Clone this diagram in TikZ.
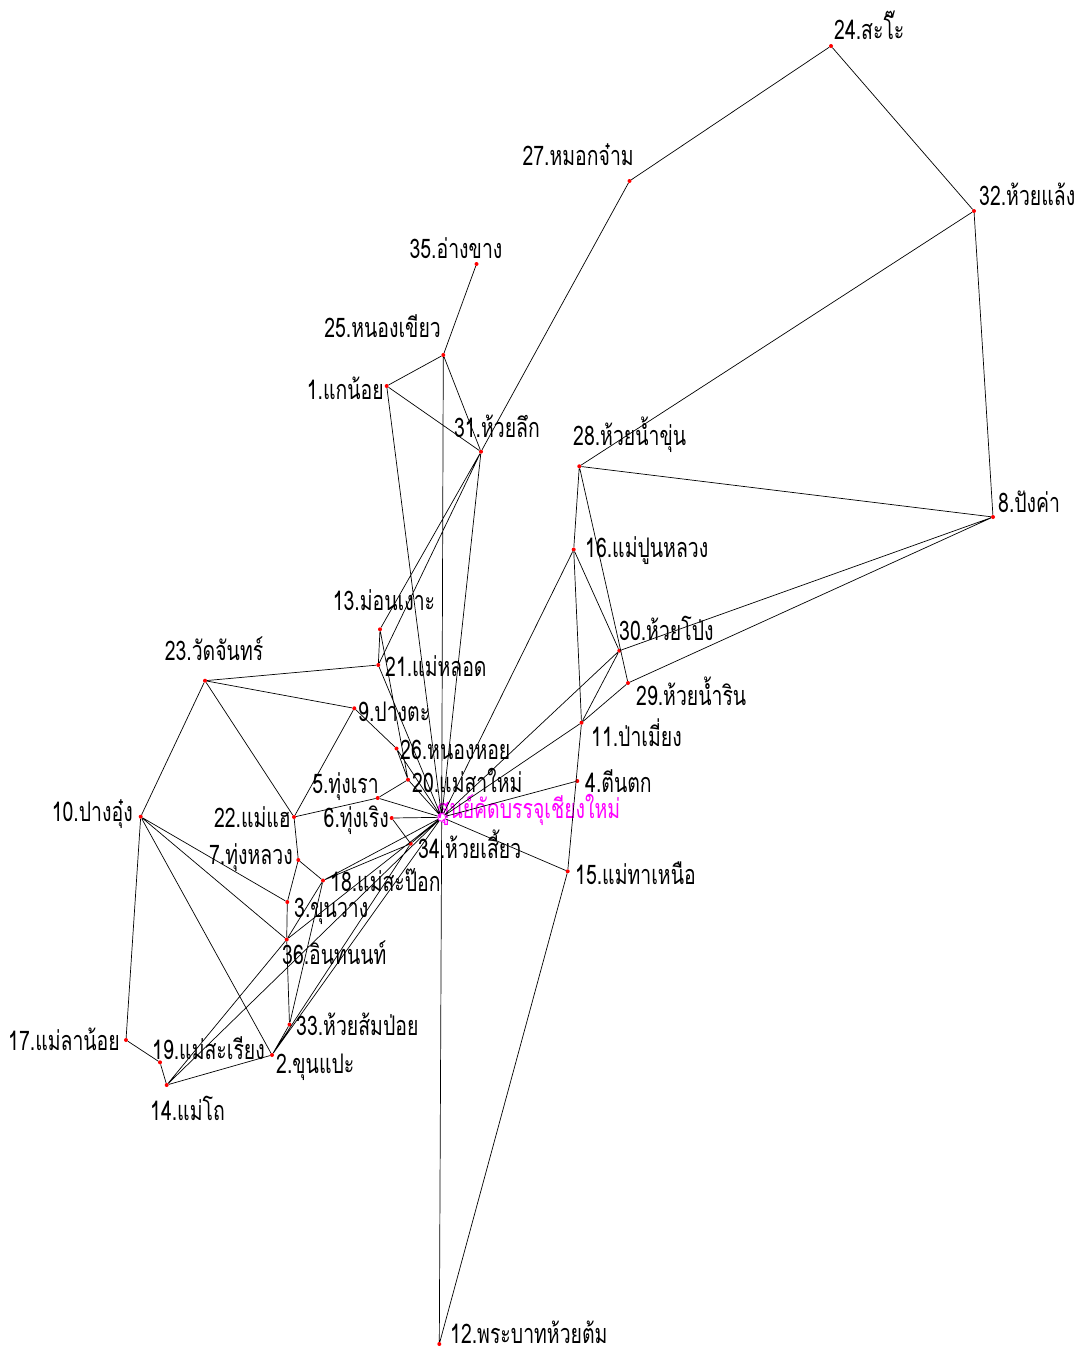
\documentclass[tikz,border=0pt]{standalone}
\usepackage{fontspec}
\newfontfamily\thai[Script=Thai,FakeStretch=0.72]{Loma}
\usetikzlibrary{positioning}
\definecolor{stopred}{RGB}{255,0,0}
\definecolor{depotpink}{RGB}{255,0,255}

\begin{document}
\begin{tikzpicture}[x=1pt,y=-1pt,
  stop/.style={circle,fill=stopred,inner sep=0pt,minimum size=4pt},
  depot/.style={circle,draw=depotpink,line width=0.9pt,inner sep=0pt,minimum size=8pt},
  lbl/.style={font=\thai\fontsize{27}{27}\selectfont,inner sep=0pt},
  road/.style={draw,line width=0.7pt}]
\useasboundingbox (0,0) rectangle (1082,1355);
% stops
\node[depot] (c) at (441.7,817.3) {};
\node[stop] (n1) at (386.7,386) {};
\node[stop] (n2) at (272,1055) {};
\node[stop] (n3) at (287.3,902) {};
\node[stop] (n4) at (577.3,781) {};
\node[stop] (n5) at (377.7,798) {};
\node[stop] (n6) at (391.7,818) {};
\node[stop] (n7) at (298.3,860) {};
\node[stop] (n8) at (993,517) {};
\node[stop] (n9) at (354.3,708.3) {};
\node[stop] (n10) at (140.7,816.7) {};
\node[stop] (n11) at (581.5,722.7) {};
\node[stop] (n12) at (439.3,1344) {};
\node[stop] (n13) at (380,629.3) {};
\node[stop] (n14) at (166.7,1085) {};
\node[stop] (n15) at (567.7,871.3) {};
\node[stop] (n16) at (573.7,549.5) {};
\node[stop] (n17) at (126,1040) {};
\node[stop] (n18) at (323,880.5) {};
\node[stop] (n19) at (160,1062.3) {};
\node[stop] (n20) at (408,779.7) {};
\node[stop] (n21) at (378.3,665) {};
\node[stop] (n22) at (294,817) {};
\node[stop] (n23) at (205,680.7) {};
\node[stop] (n24) at (831,46) {};
\node[stop] (n25) at (443.3,355) {};
\node[stop] (n26) at (396.5,748.5) {};
\node[stop] (n27) at (629.5,181) {};
\node[stop] (n28) at (579.3,466.3) {};
\node[stop] (n29) at (628,683) {};
\node[stop] (n30) at (619.3,650.7) {};
\node[stop] (n31) at (481,451.7) {};
\node[stop] (n32) at (974,211) {};
\node[stop] (n33) at (289.5,1024.5) {};
\node[stop] (n34) at (410.7,843.7) {};
\node[stop] (n35) at (476.5,264) {};
\node[stop] (n36) at (286.7,939.5) {};
% names
\node[lbl,anchor=south west] (t24) at (834,40) {24.สะโ๊ะ};
\node[lbl,anchor=south east] (t27) at (634,166) {27.หมอกจ๋าม};
\node[lbl,anchor=south west] (t32) at (979,206) {32.ห้วยแล้ง};
\node[lbl,anchor=south] (t35) at (456,259) {35.อ่างขาง};
\node[lbl,anchor=south east] (t25) at (441,338) {25.หนองเขียว};
\node[lbl,anchor=east] (t1) at (384,388) {1.แกน้อย};
\node[lbl,anchor=south] (t31) at (497,438) {31.ห้วยลึก};
\node[lbl,anchor=south west] (t28) at (573,453) {28.ห้วยน้ำขุ่น};
\node[lbl,anchor=south west] (t8) at (998,513) {8.ปังค่า};
\node[lbl,anchor=west] (t16) at (585,551) {16.แม่ปูนหลวง};
\node[lbl,anchor=south west] (t30) at (619,641) {30.ห้วยโป่ง};
\node[lbl,anchor=west] (t29) at (636,691) {29.ห้วยน้ำริน};
\node[lbl,anchor=west] (t11) at (591,733) {11.ป่าเมี่ยง};
\node[lbl,anchor=west] (t4) at (585,781) {4.ตีนตก};
\node[lbl,anchor=west] (t15) at (575,873) {15.แม่ทาเหนือ};
\node[lbl,anchor=west] (t12) at (450,1332) {12.พระบาทห้วยต้ม};
\node[lbl,anchor=south] (t13) at (384,611) {13.ม่อนเงาะ};
\node[lbl,anchor=west] (t21) at (385,666) {21.แม่หลอด};
\node[lbl,anchor=south] (t23) at (214,661) {23.วัดจันทร์};
\node[lbl,anchor=west] (t9) at (358,712) {9.ปางตะ};
\node[lbl,anchor=west] (t26) at (400,750) {26.หนองหอย};
\node[lbl,anchor=west] (t20) at (412,780) {20.แม่สาใหม่};
\node[lbl,anchor=south east] (t5) at (379,801) {5.ทุ่งเรา};
\node[lbl,anchor=east] (t22) at (291,817) {22.แม่แฮ};
\node[lbl,anchor=east] (t10) at (133,814) {10.ปางอุ๋ง};
\node[lbl,anchor=east] (t6) at (389,820) {6.ทุ่งเริง};
\node[lbl,anchor=west] (t34) at (418,844) {34.ห้วยเสี้ยว};
\node[lbl,anchor=east] (t7) at (293,858) {7.ทุ่งหลวง};
\node[lbl,anchor=west] (t18) at (330,880) {18.แม่สะป๊อก};
\node[lbl,anchor=west] (t3) at (294,911) {3.ขุนวาง};
\node[lbl,anchor=west] (t36) at (282,953) {36.อินทนนท์};
\node[lbl,anchor=west] (t33) at (296,1024) {33.ห้วยส้มป่อย};
\node[lbl,anchor=east] (t17) at (120,1039) {17.แม่ลาน้อย};
\node[lbl,anchor=west] (t19) at (152,1048) {19.แม่สะเรียง};
\node[lbl,anchor=west] (t2) at (276,1067) {2.ขุนแปะ};
\node[lbl,anchor=west] (t14) at (150,1108) {14.แม่โถ};
\node[lbl,anchor=west,text=depotpink] (tc) at (437,810) {ศูนย์คัดบรรจุเชียงใหม่};
% roads, north and east
\path[road] (n24) -- (n27) (n24) -- (n32) (n27) -- (n31) (n32) -- (n28)
  (n32) -- (n8) (n35) -- (n25) (n25) -- (n1) (n25) -- (n31) (n25) -- (c)
  (n1) -- (n31) (n1) -- (c) (n31) -- (n13) (n31) -- (n21) (n31) -- (c)
  (n28) -- (n8) (n28) -- (n16) (n28) -- (n29) (n8) -- (n30) (n8) -- (n29)
  (n16) -- (c) (n16) -- (n30) (n16) -- (n11) (n30) -- (c) (n30) -- (n11)
  (n29) -- (n11) (n11) -- (c) (n11) -- (n15) (n4) -- (c) (n15) -- (c)
  (n15) -- (n12) (c) -- (n12);
% roads, west and south
\path[road] (n13) -- (n21) (n13) -- (n20) (n21) -- (n23) (n21) -- (c)
  (n23) -- (n9) (n23) -- (n10) (n23) -- (n22) (n9) -- (n22) (n9) -- (n26)
  (n26) -- (n20) (n26) -- (c) (n20) -- (n5) (n20) -- (c) (n5) -- (n22)
  (n5) -- (c) (n6) -- (c) (n6) -- (n34) (n34) -- (c) (n22) -- (n7)
  (n7) -- (n18) (n7) -- (n3) (n3) -- (n10) (n3) -- (n36) (n10) -- (n36)
  (n10) -- (n2) (n10) -- (n17) (n17) -- (n19) (n19) -- (n14) (n14) -- (n2)
  (n36) -- (n33) (n33) -- (n2) (n18) -- (n34) (n18) -- (c) (n18) -- (n36)
  (n18) -- (n33) (n36) -- (c) (n14) -- (n36) (n14) -- (c) (n2) -- (c)
  (n2) -- (n34);
\end{tikzpicture}
\end{document}
